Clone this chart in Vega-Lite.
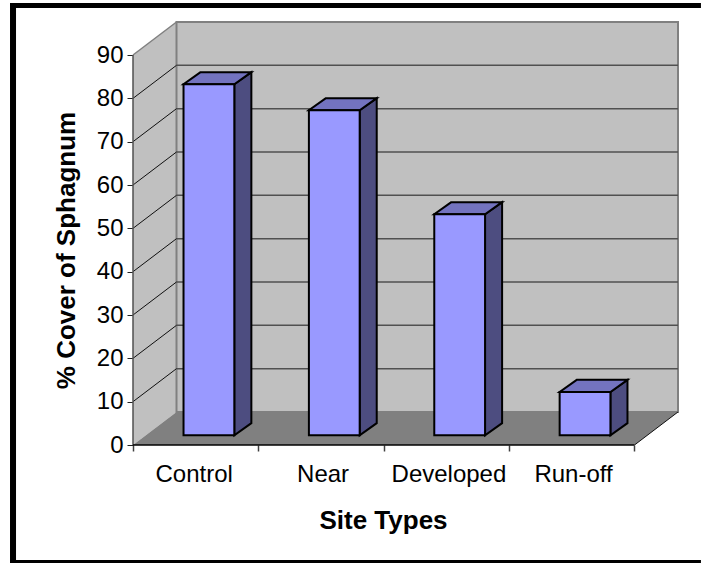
{
  "$schema": "https://vega.github.io/schema/vega-lite/v6.json",
  "width": 545,
  "height": 423,
  "autosize": "none",
  "padding": {"left": 133, "top": 22, "right": 23, "bottom": 118},
  "background": "white",
  "config": {
    "view": {"stroke": null},
    "font": "Liberation Sans"
  },
  "datasets": {
    "cover": [
      {"site": "Control", "cover": 81},
      {"site": "Near", "cover": 75},
      {"site": "Developed", "cover": 51},
      {"site": "Run-off", "cover": 10}
    ],
    "ticks": [
      {"v": 10}, {"v": 20}, {"v": 30}, {"v": 40}, {"v": 50},
      {"v": 60}, {"v": 70}, {"v": 80}, {"v": 90}
    ],
    "depth": [{"d": 0}, {"d": 1}]
  },
  "encoding": {
    "x": {
      "field": "x",
      "type": "quantitative",
      "scale": {"domain": [0, 4.347], "nice": false, "zero": false},
      "axis": {
        "title": "Site Types",
        "titleFontSize": 26,
        "titleFontWeight": "bold",
        "titleColor": "black",
        "titleX": 250,
        "titleY": 62,
        "values": [0, 0.484, 1, 1.512, 2, 2.516, 3, 3.51, 4],
        "labelExpr": "datum.value % 1 === 0 ? '' : ['Control', 'Near', 'Developed', 'Run-off'][floor(datum.value)]",
        "labelFontSize": 24,
        "labelColor": "black",
        "labelPadding": 11,
        "labelOverlap": false,
        "labelFlush": false,
        "domain": false,
        "grid": false,
        "tickSize": 6,
        "tickColor": "#404040",
        "tickWidth": 1.5,
        "tickOpacity": {"condition": {"test": "datum.value % 1 === 0", "value": 1}, "value": 0}
      }
    },
    "y": {
      "field": "y",
      "type": "quantitative",
      "scale": {"domain": [0, 97.62], "nice": false, "zero": false},
      "axis": {
        "title": "% Cover of Sphagnum",
        "titleFontSize": 26,
        "titleFontWeight": "bold",
        "titleColor": "black",
        "titleX": -54,
        "titleY": 228,
        "values": [0, 10, 20, 30, 40, 50, 60, 70, 80, 90],
        "labelFontSize": 24,
        "labelColor": "black",
        "labelPadding": 4,
        "domain": false,
        "grid": false,
        "tickSize": 6,
        "tickColor": "#202020",
        "tickWidth": 1
      }
    }
  },
  "layer": [
    {
      "description": "Left side wall",
      "data": {"name": "depth"},
      "transform": [
        {"calculate": "datum.d * 0.347", "as": "x"},
        {"calculate": "datum.d * 7.62", "as": "y"},
        {"calculate": "90 + datum.d * 7.62", "as": "yEnd"}
      ],
      "mark": {"type": "area", "orient": "vertical", "fill": "#c0c0c0"},
      "encoding": {"y2": {"field": "yEnd"}}
    },
    {
      "description": "Back wall",
      "data": {"values": [{}]},
      "transform": [
        {"calculate": "0.347", "as": "x"},
        {"calculate": "4.347", "as": "xEnd"},
        {"calculate": "7.62", "as": "y"},
        {"calculate": "97.62", "as": "yEnd"}
      ],
      "mark": {"type": "rect", "fill": "#c0c0c0", "stroke": "#808080", "strokeWidth": 2},
      "encoding": {"x2": {"field": "xEnd"}, "y2": {"field": "yEnd"}}
    },
    {
      "description": "Floor plane",
      "data": {"name": "depth"},
      "transform": [
        {"calculate": "datum.d * 0.347", "as": "x"},
        {"calculate": "4 + datum.d * 0.347", "as": "xEnd"},
        {"calculate": "datum.d * 7.62", "as": "y"}
      ],
      "mark": {"type": "area", "orient": "horizontal", "fill": "#808080"},
      "encoding": {"x2": {"field": "xEnd"}}
    },
    {
      "description": "Gridlines across the back wall",
      "data": {"name": "ticks"},
      "transform": [
        {"filter": "datum.v < 90"},
        {"calculate": "0.347", "as": "x"},
        {"calculate": "4.347", "as": "xEnd"},
        {"calculate": "datum.v + 7.62", "as": "y"}
      ],
      "mark": {"type": "rule", "color": "#505050", "strokeWidth": 1.5},
      "encoding": {"x2": {"field": "xEnd"}}
    },
    {
      "description": "Gridlines running up the side wall",
      "data": {"name": "ticks"},
      "transform": [
        {"filter": "datum.v < 90"},
        {"calculate": "0", "as": "x"},
        {"calculate": "0.347", "as": "xEnd"},
        {"calculate": "datum.v", "as": "y"},
        {"calculate": "datum.v + 7.62", "as": "yEnd"}
      ],
      "mark": {"type": "rule", "color": "#101010", "strokeWidth": 1},
      "encoding": {"x2": {"field": "xEnd"}, "y2": {"field": "yEnd"}}
    },
    {
      "description": "Top edge of the side wall",
      "data": {"values": [{}]},
      "transform": [
        {"calculate": "0", "as": "x"},
        {"calculate": "0.347", "as": "xEnd"},
        {"calculate": "90", "as": "y"},
        {"calculate": "97.62", "as": "yEnd"}
      ],
      "mark": {"type": "rule", "color": "#808080", "strokeWidth": 1.5},
      "encoding": {"x2": {"field": "xEnd"}, "y2": {"field": "yEnd"}}
    },
    {
      "description": "Front right edge of the floor",
      "data": {"values": [{}]},
      "transform": [
        {"calculate": "4", "as": "x"},
        {"calculate": "4.347", "as": "xEnd"},
        {"calculate": "0", "as": "y"},
        {"calculate": "7.62", "as": "yEnd"}
      ],
      "mark": {"type": "rule", "color": "#101010", "strokeWidth": 1},
      "encoding": {"x2": {"field": "xEnd"}, "y2": {"field": "yEnd"}}
    },
    {
      "description": "Value axis line",
      "data": {"values": [{}]},
      "transform": [
        {"calculate": "0", "as": "x"},
        {"calculate": "0", "as": "y"},
        {"calculate": "90", "as": "yEnd"}
      ],
      "mark": {"type": "rule", "color": "#505050", "strokeWidth": 1.5},
      "encoding": {"y2": {"field": "yEnd"}}
    },
    {
      "description": "Category axis line",
      "data": {"values": [{}]},
      "transform": [
        {"calculate": "0", "as": "x"},
        {"calculate": "4", "as": "xEnd"},
        {"calculate": "0", "as": "y"}
      ],
      "mark": {"type": "rule", "color": "black", "strokeWidth": 1.5},
      "encoding": {"x2": {"field": "xEnd"}}
    },
    {
      "description": "Right-hand faces of the columns",
      "data": {"name": "cover"},
      "transform": [
        {"window": [{"op": "row_number", "as": "rank"}]},
        {"calculate": "[0, 1]", "as": "d"},
        {"flatten": ["d"]},
        {"calculate": "datum.rank - 1 + 0.403 + 0.405 + datum.d * 0.136", "as": "x"},
        {"calculate": "2.24 + datum.d * 2.8", "as": "yEnd"},
        {"calculate": "datum.cover + datum.yEnd", "as": "y"}
      ],
      "mark": {"type": "area", "orient": "vertical", "fill": "#4d4d80", "stroke": "black", "strokeWidth": 2},
      "encoding": {"y2": {"field": "yEnd"}, "detail": {"field": "site"}}
    },
    {
      "description": "Top faces of the columns",
      "data": {"name": "cover"},
      "transform": [
        {"window": [{"op": "row_number", "as": "rank"}]},
        {"calculate": "[0, 1]", "as": "d"},
        {"flatten": ["d"]},
        {"calculate": "datum.rank - 1 + 0.403 + datum.d * 0.136", "as": "x"},
        {"calculate": "datum.x + 0.405", "as": "xEnd"},
        {"calculate": "datum.cover + 2.24 + datum.d * 2.8", "as": "y"}
      ],
      "mark": {"type": "area", "orient": "horizontal", "fill": "#7373bf", "stroke": "black", "strokeWidth": 2},
      "encoding": {"x2": {"field": "xEnd"}, "detail": {"field": "site"}}
    },
    {
      "description": "Front faces of the columns",
      "data": {"name": "cover"},
      "transform": [
        {"window": [{"op": "row_number", "as": "rank"}]},
        {"calculate": "datum.rank - 1 + 0.403", "as": "x"},
        {"calculate": "datum.x + 0.405", "as": "xEnd"},
        {"calculate": "datum.cover + 2.24", "as": "y"},
        {"calculate": "2.24", "as": "yEnd"}
      ],
      "mark": {"type": "rect", "fill": "#9999ff", "stroke": "black", "strokeWidth": 2},
      "encoding": {"x2": {"field": "xEnd"}, "y2": {"field": "yEnd"}}
    },
    {
      "description": "Heavy frame on the left, top and bottom of the figure",
      "data": {"values": [{"side": "left"}, {"side": "top"}, {"side": "bottom"}]},
      "transform": [
        {"calculate": "-0.981", "as": "x"},
        {"calculate": "datum.side === 'left' ? -0.933 : 4.53", "as": "xEnd"},
        {"calculate": "datum.side === 'bottom' ? -26.54 : 102", "as": "y"},
        {"calculate": "datum.side === 'top' ? 100.85 : -27.46", "as": "yEnd"}
      ],
      "mark": {"type": "rect", "fill": "black"},
      "encoding": {"x2": {"field": "xEnd"}, "y2": {"field": "yEnd"}}
    }
  ]
}
